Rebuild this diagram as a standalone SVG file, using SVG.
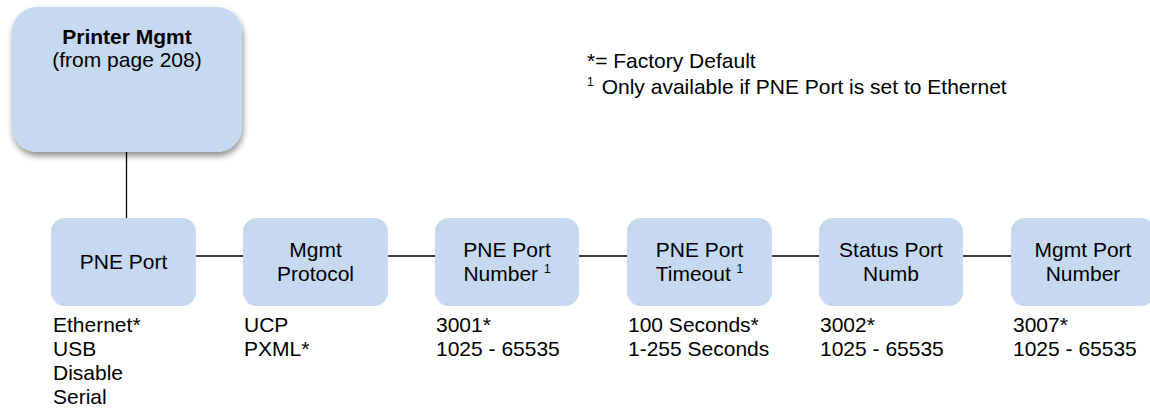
<svg xmlns="http://www.w3.org/2000/svg" width="1150" height="411" viewBox="0 0 1150 411">
<defs>
<style>
.box{fill:#c6d9f0;}
.t{font-family:"Liberation Sans",Arial,sans-serif;font-size:21px;fill:#000;}
.c{text-anchor:middle;}
.b{font-weight:bold;}
.sup{font-size:12px;}
.ln{stroke:#000;stroke-width:1.3;fill:none;}
</style>
<filter id="sh" x="-20%" y="-20%" width="140%" height="150%">
<feGaussianBlur in="SourceAlpha" stdDeviation="3"/>
<feOffset dx="1" dy="4" result="o"/>
<feComponentTransfer><feFuncA type="linear" slope="0.45"/></feComponentTransfer>
<feMerge><feMergeNode/><feMergeNode in="SourceGraphic"/></feMerge>
</filter>
</defs>
<rect width="1150" height="411" fill="#fff"/>
<g id="connectors">
<line class="ln" x1="126.5" y1="152" x2="126.5" y2="218"/>
<line class="ln" x1="196" y1="256" x2="243" y2="256"/>
<line class="ln" x1="388" y1="256" x2="435" y2="256"/>
<line class="ln" x1="579" y1="256" x2="627" y2="256"/>
<line class="ln" x1="772" y1="256" x2="819" y2="256"/>
<line class="ln" x1="963" y1="256" x2="1011" y2="256"/>
</g>
<g id="printer-mgmt">
<rect class="box" x="12" y="7" width="230" height="145" rx="25" filter="url(#sh)"/>
<text class="t c b" x="127" y="44">Printer Mgmt</text>
<text class="t c" x="127" y="67">(from page 208)</text>
</g>
<g id="legend">
<text class="t" x="587" y="68">*= Factory Default</text>
<text class="t" x="587" y="94"><tspan class="sup" dy="-8">1</tspan><tspan dx="8" dy="8">Only available if PNE Port is set to Ethernet</tspan></text>
</g>
<g id="pne-port">
<rect class="box" x="51" y="218" width="145" height="88" rx="14"/>
<text class="t c" x="123.5" y="269">PNE Port</text>
<text class="t" x="53" y="332">Ethernet*</text>
<text class="t" x="53" y="356">USB</text>
<text class="t" x="53" y="380">Disable</text>
<text class="t" x="53" y="404">Serial</text>
</g>
<g id="mgmt-protocol">
<rect class="box" x="243" y="218" width="145" height="88" rx="14"/>
<text class="t c" x="315.5" y="257">Mgmt</text>
<text class="t c" x="315.5" y="281">Protocol</text>
<text class="t" x="244" y="332">UCP</text>
<text class="t" x="244" y="356">PXML*</text>
</g>
<g id="pne-port-number">
<rect class="box" x="435" y="218" width="144" height="88" rx="14"/>
<text class="t c" x="507" y="257">PNE Port</text>
<text class="t c" x="507" y="281">Number <tspan class="sup" dy="-8">1</tspan></text>
<text class="t" x="436" y="332">3001*</text>
<text class="t" x="436" y="356">1025 - 65535</text>
</g>
<g id="pne-port-timeout">
<rect class="box" x="627" y="218" width="145" height="88" rx="14"/>
<text class="t c" x="699.5" y="257">PNE Port</text>
<text class="t c" x="699.5" y="281">Timeout <tspan class="sup" dy="-8">1</tspan></text>
<text class="t" x="628" y="332">100 Seconds*</text>
<text class="t" x="628" y="356">1-255 Seconds</text>
</g>
<g id="status-port-numb">
<rect class="box" x="819" y="218" width="144" height="88" rx="14"/>
<text class="t c" x="891" y="257">Status Port</text>
<text class="t c" x="891" y="281">Numb</text>
<text class="t" x="820" y="332">3002*</text>
<text class="t" x="820" y="356">1025 - 65535</text>
</g>
<g id="mgmt-port-number">
<rect class="box" x="1011" y="218" width="144" height="88" rx="14"/>
<text class="t c" x="1083" y="257">Mgmt Port</text>
<text class="t c" x="1083" y="281">Number</text>
<text class="t" x="1013" y="332">3007*</text>
<text class="t" x="1013" y="356">1025 - 65535</text>
</g>
</svg>
